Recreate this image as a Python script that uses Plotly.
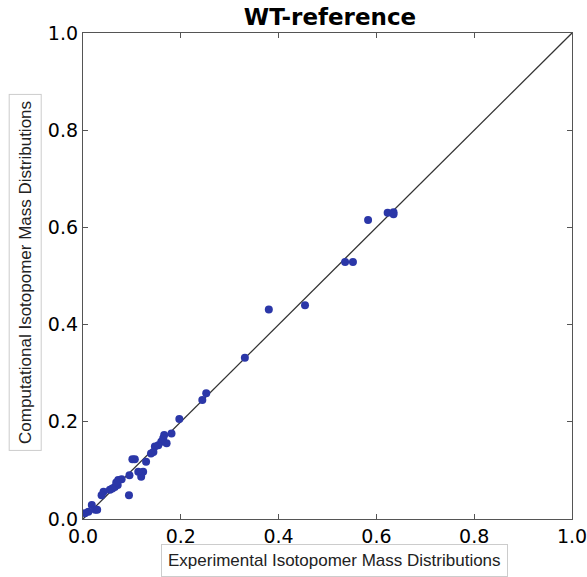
import plotly.graph_objects as go

# Experimental (x) vs computational (y) isotopomer mass distributions
exp_vals = [0.252, 0.244, 0.197, 0.181, 0.166, 0.164, 0.171, 0.160, 0.154, 0.147,
            0.144, 0.139, 0.106, 0.101, 0.129, 0.123, 0.119, 0.113, 0.095, 0.079,
            0.072, 0.071, 0.065, 0.055, 0.042, 0.038, 0.094, 0.018, 0.025, 0.011,
            0.004, 0.029, 0.331, 0.380, 0.454, 0.536, 0.552, 0.583, 0.623, 0.635,
            0.635, 0.068, 0.060]
comp_vals = [0.259, 0.245, 0.206, 0.176, 0.173, 0.166, 0.156, 0.159, 0.152, 0.149,
             0.138, 0.135, 0.123, 0.123, 0.118, 0.097, 0.087, 0.097, 0.090, 0.082,
             0.080, 0.070, 0.066, 0.060, 0.056, 0.049, 0.049, 0.029, 0.019, 0.015,
             0.012, 0.019, 0.332, 0.431, 0.440, 0.529, 0.529, 0.615, 0.630, 0.631,
             0.627, 0.075, 0.063]
diag = [0.0, 1.0]
tick_vals = [0.0, 0.2, 0.4, 0.6, 0.8, 1.0]
tick_text = ["0.0", "0.2", "0.4", "0.6", "0.8", "1.0"]

fig = go.Figure()
fig.add_trace(go.Scatter(x=diag, y=diag, mode="lines",
                         line=dict(color="#333333", width=1.3), hoverinfo="skip"))
fig.add_trace(go.Scatter(x=exp_vals, y=comp_vals, mode="markers",
                         marker=dict(color="#2b37a8", size=8, line=dict(width=0))))

axis_common = dict(range=[0, 1], tickvals=tick_vals, ticktext=tick_text,
                   ticks="inside", ticklen=5, tickcolor="#555555",
                   showline=True, linecolor="#555555", linewidth=1.3, mirror="ticks",
                   showgrid=False, zeroline=False, automargin=False,
                   ticklabeloverflow="allow",
                   tickfont=dict(family="DejaVu Sans", size=19, color="black"))

fig.update_layout(
    width=587, height=577,
    margin=dict(l=83, r=15, t=33, b=58, autoexpand=False),
    paper_bgcolor="white", plot_bgcolor="white",
    showlegend=False,
    title=dict(text="<b>WT-reference</b>", x=(330) / 587, xanchor="center",
               y=1 - 17 / 577, yanchor="middle",
               font=dict(family="DejaVu Sans", size=23, color="black")),
    xaxis=axis_common,
    yaxis=axis_common,
    annotations=[
        dict(text="Experimental Isotopomer Mass Distributions", xref="paper", yref="paper",
             x=0.515, y=-0.086, showarrow=False, xanchor="center", yanchor="middle",
             font=dict(family="Liberation Sans", size=17, color="#222222"),
             bordercolor="#cccccc", borderwidth=1, borderpad=6, bgcolor="white"),
        dict(text="Computational Isotopomer Mass Distributions", xref="paper", yref="paper",
             x=-0.119, y=0.508, showarrow=False, xanchor="center", yanchor="middle",
             textangle=-90,
             font=dict(family="Liberation Sans", size=17, color="#222222"),
             bordercolor="#cccccc", borderwidth=1, borderpad=6, bgcolor="white"),
    ],
)
fig.write_html("out.html", config={"displayModeBar": False},
               post_script="document.body.style.margin='0';document.body.style.overflow='hidden';")
